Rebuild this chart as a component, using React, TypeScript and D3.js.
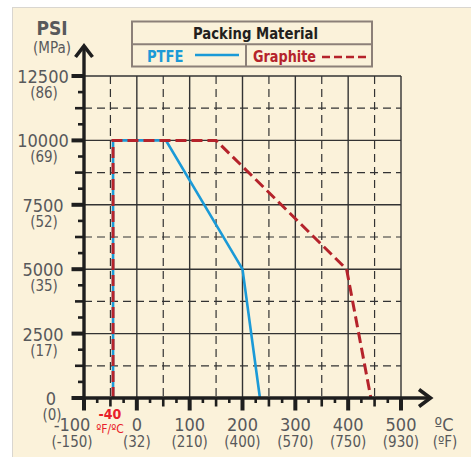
import React from "react";
import * as d3 from "d3";

// 數值
const tempTicksC = [-100, 0, 100, 200, 300, 400, 500];
const tempTicksF = ["(-150)", "(32)", "(210)", "(400)", "(570)", "(750)", "(930)"];
const psiTicks = [0, 2500, 5000, 7500, 10000, 12500];
const mpaTicks = ["(0)", "(17)", "(35)", "(52)", "(69)", "(86)"];

// PTFE 曲線 [°C, PSI]
const ptfeTemp = [-45, -45, 55, 200, 233];
const ptfePsi = [0, 10000, 10000, 5000, 0];
// Graphite 曲線 [°C, PSI]
const graphiteTemp = [-45, -45, 150, 397, 443];
const graphitePsi = [0, 10000, 10000, 5000, 0];

const W = 471;
const H = 457;
const FONT = "'DejaVu Sans Condensed', 'DejaVu Sans', sans-serif";
const GRAY = "#58595b";
const BLUE = "#1b9ad7";
const RED = "#b5232b";
const GRID = "#333";

const x = d3.scaleLinear().domain([-100, 500]).range([84, 401]);
const y = d3.scaleLinear().domain([0, 12500]).range([398, 76]);

type Pt = [number, number];
const zip = (a: number[], b: number[]): Pt[] => a.map((v, i) => [v, b[i]]);
const line = d3.line<Pt>().x(d => x(d[0])).y(d => y(d[1]));

export default function App() {
    const xMinor = d3.range(-100, 501, 25);
    const yMinor = d3.range(0, 12501, 625);
    const xDash = d3.range(-50, 500, 100);
    const yDash = d3.range(1250, 12500, 2500);

    return (
        <svg width={W} height={H} style={{ position: "absolute", left: 0, top: 0 }} fontFamily={FONT}>
            {/* 背景 */}
            <rect x={12.5} y={7.5} width={W} height={H} fill="#fbf2da" stroke="#d9d6d0" strokeWidth={1} />

            {/* 格線 */}
            <g>
                {xDash.map(v => (
                    <line key={"xd" + v} x1={x(v)} x2={x(v)} y1={y(12500)} y2={y(0)} stroke={GRID} strokeWidth={1.2} strokeDasharray="8,5" />
                ))}
                {yDash.map(v => (
                    <line key={"yd" + v} x1={x(-100)} x2={x(500)} y1={y(v)} y2={y(v)} stroke={GRID} strokeWidth={1.2} strokeDasharray="8,5" />
                ))}
                {tempTicksC.slice(1).map(v => (
                    <line key={"xs" + v} x1={x(v)} x2={x(v)} y1={y(12500)} y2={y(0)} stroke={GRID} strokeWidth={1.4} />
                ))}
                {psiTicks.slice(1).map(v => (
                    <line key={"ys" + v} x1={x(-100)} x2={x(500)} y1={y(v)} y2={y(v)} stroke={GRID} strokeWidth={1.4} />
                ))}
            </g>

            {/* 曲線 */}
            <path d={line(zip(ptfeTemp, ptfePsi)) || ""} fill="none" stroke={BLUE} strokeWidth={2.6} />
            <path d={line(zip(graphiteTemp, graphitePsi)) || ""} fill="none" stroke={RED} strokeWidth={3} strokeDasharray="11,5" />

            {/* 座標軸 */}
            <g stroke="#1e1e1e" fill="none" strokeLinecap="butt">
                <line x1={x(-100)} x2={x(-100)} y1={46} y2={y(0) + 4} strokeWidth={3.4} />
                <line x1={72} x2={431} y1={y(0)} y2={y(0)} strokeWidth={3.4} />
                <polyline points={`${x(-100) - 8.5},57 ${x(-100)},46 ${x(-100) + 8.5},57`} strokeWidth={3.6} />
                <polyline points={`419,389.5 430.5,${y(0)} 419,406.5`} strokeWidth={3.6} />
                {yMinor.map(v => {
                    const major = v % 2500 === 0;
                    const mid = !major && v % 1250 === 0;
                    const len = major ? 12.5 : mid ? 9 : 6;
                    return <line key={"yt" + v} x1={x(-100) - len} x2={x(-100)} y1={y(v)} y2={y(v)} strokeWidth={major ? 4 : 2.6} />;
                })}
                {xMinor.map(v => {
                    const major = v % 100 === 0;
                    const mid = !major && v % 50 === 0;
                    const len = major ? 12.5 : mid ? 8.5 : 5;
                    return <line key={"xt" + v} x1={x(v)} x2={x(v)} y1={y(0)} y2={y(0) + len} strokeWidth={major ? 4 : 2.6} />;
                })}
            </g>

            {/* Y 軸標籤 */}
            <text x={52} y={35} textAnchor="middle" fontSize={19} fontWeight="bold" fill={GRAY}>PSI</text>
            <text x={52} y={53} textAnchor="middle" fontSize={15} fill={GRAY}>(MPa)</text>
            {psiTicks.map((v, i) => {
                const cx = v === 0 ? 51 : 43;
                return (
                    <g key={"yl" + v} fill={GRAY} textAnchor="middle">
                        <text x={cx} y={y(v) + 7} fontSize={18}>{v}</text>
                        <text x={cx + 1} y={y(v) + 22} fontSize={15}>{mpaTicks[i]}</text>
                    </g>
                );
            })}

            {/* X 軸標籤 */}
            {tempTicksC.map((v, i) => {
                const cx = v === -100 ? 72 : x(v);
                return (
                    <g key={"xl" + v} fill={GRAY} textAnchor="middle">
                        <text x={cx} y={431} fontSize={18}>{v}</text>
                        <text x={cx} y={447} fontSize={15}>{tempTicksF[i]}</text>
                    </g>
                );
            })}
            <text x={444} y={431} textAnchor="middle" fontSize={18} fill={GRAY}>ºC</text>
            <text x={445} y={447} textAnchor="middle" fontSize={15} fill={GRAY}>(ºF)</text>
            <text x={110} y={418.5} textAnchor="middle" fontSize={14} fontWeight="bold" fill="#e8202a">-40</text>
            <text x={110} y={433} textAnchor="middle" fontSize={12} fill="#e8202a">ºF/ºC</text>

            {/* 圖例 */}
            <g>
                <rect x={132} y={21.5} width={240} height={45} fill="none" stroke="#8c8078" strokeWidth={2} />
                <line x1={132} x2={372} y1={44.3} y2={44.3} stroke="#8c8078" strokeWidth={2} />
                <line x1={246} x2={246} y1={44.3} y2={66.5} stroke="#8c8078" strokeWidth={2} />
                <text x={193} y={39} textLength={125} lengthAdjust="spacingAndGlyphs" fontSize={16.5} fontWeight="bold" fill="#231f20">Packing Material</text>
                <text x={147} y={61.5} textLength={36.5} lengthAdjust="spacingAndGlyphs" fontSize={16} fontWeight="bold" fill={BLUE}>PTFE</text>
                <line x1={195} x2={239} y1={55} y2={55} stroke={BLUE} strokeWidth={2.4} />
                <text x={253} y={61.5} textLength={63} lengthAdjust="spacingAndGlyphs" fontSize={16} fontWeight="bold" fill={RED}>Graphite</text>
                <line x1={322} x2={366} y1={57} y2={57} stroke={RED} strokeWidth={2.6} strokeDasharray="8,4" />
            </g>
        </svg>
    );
}
